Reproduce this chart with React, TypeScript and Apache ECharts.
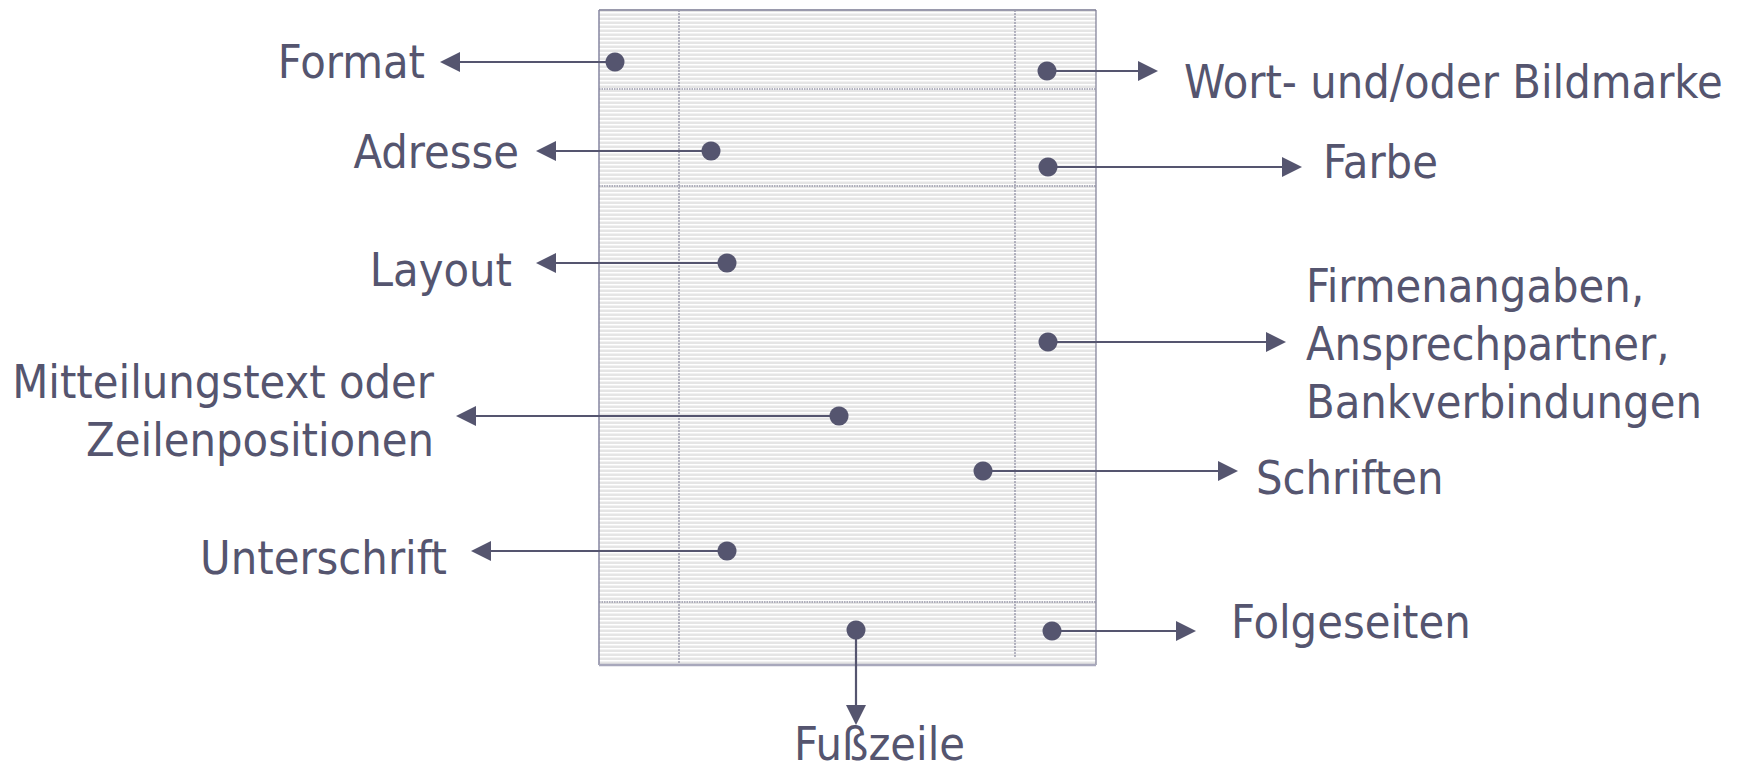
import React, { useEffect, useRef } from "react";
import * as echarts from "echarts";

// Annotation data (pixel-space coordinates of the diagram)
const LABELS = [
  "Format",
  "Adresse",
  "Layout",
  "Mitteilungstext oder\nZeilenpositionen",
  "Unterschrift",
  "Fußzeile",
  "Wort- und/oder Bildmarke",
  "Farbe",
  "Firmenangaben,\nAnsprechpartner,\nBankverbindungen",
  "Schriften",
  "Folgeseiten",
];
const DOT_X = [615, 711, 727, 839, 727, 856, 1047, 1048, 1048, 983, 1052];
const DOT_Y = [62, 151, 263, 416, 551, 630, 71, 167, 342, 471, 631];
const TIP_X = [440, 536, 536, 456, 471, 856, 1158, 1302, 1286, 1238, 1196];
const TIP_Y = [62, 151, 263, 416, 551, 725, 71, 167, 342, 471, 631];
const LABEL_X = [425, 519, 512, 434, 447, 794, 1184, 1323, 1306, 1256, 1231];
const LABEL_Y = [62, 152, 270, 411, 558, 744, 82, 162, 344, 478, 622];
const LABEL_ALIGN = ["right", "right", "right", "right", "right", "left", "left", "left", "left", "left", "left"];

// Letter page layout
const PAGE = { x0: 599, y0: 10, x1: 1096, y1: 665 };
const PAGE_VLINES = [679, 1015];
const PAGE_VLINE_END = [665, 657];
const PAGE_HLINES = [89, 186, 602];

const W = 1746;
const H = 772;
const INK = "#55556f";
const FONT = '"DejaVu Sans Condensed", "DejaVu Sans", Tahoma, sans-serif';

export default function App() {
  const ref = useRef<HTMLDivElement>(null);
  useEffect(() => {
    document.body.style.margin = "0";
    const chart = echarts.init(ref.current!, null, { renderer: "svg" });

    const annData = LABELS.map((_, i) => [DOT_X[i], DOT_Y[i], TIP_X[i], TIP_Y[i], LABEL_X[i], LABEL_Y[i], i]);

    const option: any = {
      animation: false,
      backgroundColor: "#ffffff",
      grid: { left: 0, right: 0, top: 0, bottom: 0 },
      xAxis: { type: "value", min: 0, max: W, show: false },
      yAxis: { type: "value", min: 0, max: H, inverse: true, show: false },
      series: [
        {
          type: "custom",
          silent: true,
          data: [[PAGE.x0, PAGE.y0, PAGE.x1, PAGE.y1]],
          renderItem: (params: any, api: any) => {
            const p0 = api.coord([api.value(0), api.value(1)]);
            const p1 = api.coord([api.value(2), api.value(3)]);
            const children: any[] = [];
            children.push({
              type: "rect",
              shape: { x: p0[0], y: p0[1], width: p1[0] - p0[0], height: p1[1] - p0[1] },
              style: { fill: "#e5e5e5" },
            });
            for (let y = p0[1] + 2; y < p1[1]; y += 4) {
              children.push({
                type: "rect",
                shape: { x: p0[0], y, width: p1[0] - p0[0], height: 1.5 },
                style: { fill: "#ffffff" },
              });
            }
            PAGE_VLINES.forEach((vx, k) => {
              const a = api.coord([vx, PAGE.y0]);
              const b = api.coord([vx, PAGE_VLINE_END[k]]);
              children.push({
                type: "line",
                shape: { x1: a[0], y1: a[1], x2: b[0], y2: b[1] },
                style: { stroke: "#8a8aa0", lineWidth: 1.2, lineDash: [2, 1] },
              });
            });
            PAGE_HLINES.forEach((hy) => {
              const a = api.coord([PAGE.x0, hy]);
              const b = api.coord([PAGE.x1, hy]);
              children.push({
                type: "line",
                shape: { x1: a[0], y1: a[1], x2: b[0], y2: b[1] },
                style: { stroke: "#9a9aac", lineWidth: 1.5, lineDash: [1.5, 1] },
              });
            });
            // borders
            children.push({
              type: "line",
              shape: { x1: p0[0], y1: p0[1], x2: p1[0], y2: p0[1] },
              style: { stroke: "#9a9aac", lineWidth: 2 },
            });
            children.push({
              type: "line",
              shape: { x1: p0[0], y1: p0[1], x2: p0[0], y2: p1[1] },
              style: { stroke: "#8686a0", lineWidth: 1.5 },
            });
            children.push({
              type: "line",
              shape: { x1: p1[0], y1: p0[1], x2: p1[0], y2: p1[1] },
              style: { stroke: "#7c7c94", lineWidth: 1.2 },
            });
            children.push({
              type: "line",
              shape: { x1: p0[0], y1: p1[1], x2: p1[0], y2: p1[1] },
              style: { stroke: "#a8a8bc", lineWidth: 2.5 },
            });
            return { type: "group", children };
          },
        },
        {
          type: "custom",
          silent: true,
          data: annData,
          renderItem: (params: any, api: any) => {
            const i = params.dataIndex;
            const d = api.coord([api.value(0), api.value(1)]);
            const t = api.coord([api.value(2), api.value(3)]);
            const l = api.coord([api.value(4), api.value(5)]);
            const dx = t[0] - d[0];
            const dy = t[1] - d[1];
            const len = Math.sqrt(dx * dx + dy * dy) || 1;
            const ux = dx / len;
            const uy = dy / len;
            const headLen = 20;
            const headHalf = 10;
            const bx = t[0] - ux * headLen;
            const by = t[1] - uy * headLen;
            const px = -uy;
            const py = ux;
            const multi = LABELS[i].indexOf("\n") >= 0;
            return {
              type: "group",
              children: [
                {
                  type: "line",
                  shape: { x1: d[0], y1: d[1], x2: bx + ux * 1, y2: by + uy * 1 },
                  style: { stroke: INK, lineWidth: 2.2 },
                },
                {
                  type: "polygon",
                  shape: {
                    points: [
                      [t[0], t[1]],
                      [bx + px * headHalf, by + py * headHalf],
                      [bx - px * headHalf, by - py * headHalf],
                    ],
                  },
                  style: { fill: INK },
                },
                {
                  type: "circle",
                  shape: { cx: d[0], cy: d[1], r: 9.5 },
                  style: { fill: INK },
                },
                {
                  type: "text",
                  style: {
                    text: LABELS[i],
                    x: l[0],
                    y: l[1],
                    fill: INK,
                    fontSize: 46.5,
                    fontFamily: FONT,
                    lineHeight: multi ? 58 : 46,
                    align: LABEL_ALIGN[i],
                    verticalAlign: "middle",
                  },
                },
              ],
            };
          },
        },
      ],
    };
    chart.setOption(option);
    return () => chart.dispose();
  }, []);
  return <div ref={ref} style={{ width: W, height: H }} />;
}
